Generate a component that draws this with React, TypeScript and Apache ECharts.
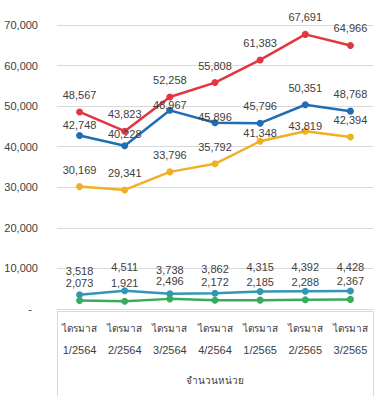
import React, { useEffect, useRef } from "react";
import * as echarts from "echarts";

const categories = ["1/2564", "2/2564", "3/2564", "4/2564", "1/2565", "2/2565", "3/2565"];
const categoryPrefix = "ไตรมาส";
const axisName = "จำนวนหน่วย";

const redValues = [48567, 43823, 52258, 55808, 61383, 67691, 64966];
const blueValues = [42748, 40228, 48967, 45896, 45796, 50351, 48768];
const orangeValues = [30169, 29341, 33796, 35792, 41348, 43819, 42394];
const tealValues = [3518, 4511, 3738, 3862, 4315, 4392, 4428];
const greenValues = [2073, 1921, 2496, 2172, 2185, 2288, 2367];

const yMin = 0;
const yMax = 70000;
const yInterval = 10000;

const FONT = "'Liberation Sans', Arial, sans-serif";

function fmt(v: number): string {
  return v.toLocaleString("en-US");
}

function makeSeries(name: string, values: number[], color: string, labelGap: number, shifts: number[] = [], lh?: number) {
  return {
    name,
    type: "line",
    data: values.map((v, i) => ({
      value: v,
      label: { offset: [0, shifts[i] || 0] },
    })),
    symbol: "circle",
    symbolSize: 7,
    lineStyle: { color, width: 2.5 },
    itemStyle: { color },
    label: {
      show: true,
      position: "top",
      distance: labelGap,
      color: "#404040",
      fontSize: 11,
      lineHeight: lh,
      fontFamily: FONT,
      formatter: (p: any) => fmt(p.value),
    },
    z: 2,
  };
}

export default function App() {
  const ref = useRef<HTMLDivElement>(null);
  useEffect(() => {
    if (!ref.current) return;
    const chart = echarts.init(ref.current, undefined, { renderer: "svg" });
    chart.setOption({
      animation: false,
      backgroundColor: "#ffffff",
      grid: { left: 57, right: 10, top: 25, bottom: 95, containLabel: false },
      xAxis: {
        type: "category",
        data: categories,
        boundaryGap: true,
        axisLine: { show: true, lineStyle: { color: "#d9d9d9", width: 1 } },
        axisTick: { show: false },
        axisLabel: {
          interval: 0,
          margin: 8,
          color: "#404040",
          fontSize: 11,
          lineHeight: 22,
          fontFamily: FONT,
          formatter: (v: string) => "{t|" + categoryPrefix + "}\n{n|" + v + "}",
          rich: {
            t: { fontSize: 10, lineHeight: 22, color: "#404040", fontFamily: FONT },
            n: { fontSize: 11, lineHeight: 22, color: "#404040", fontFamily: FONT },
          },
        },
        name: axisName,
        nameLocation: "middle",
        nameGap: 66,
        nameTextStyle: { color: "#404040", fontSize: 10, fontFamily: FONT },
      },
      yAxis: {
        type: "value",
        min: yMin,
        max: yMax,
        interval: yInterval,
        axisLine: { show: false },
        axisTick: { show: false },
        splitLine: { lineStyle: { color: "#d9d9d9", width: 1 } },
        axisLabel: {
          margin: 19,
          color: "#404040",
          fontSize: 11,
          fontFamily: FONT,
          formatter: (v: number) => (v === 0 ? "-  " : fmt(v)),
        },
      },
      graphic: [
        {
          type: "polyline",
          shape: { points: [[57.5, 396], [57.5, 311.5], [373.5, 311.5], [373.5, 396]] },
          style: { stroke: "#d9d9d9", fill: "none", lineWidth: 1 },
          silent: true,
        },
      ],
      series: [
        makeSeries("red", redValues, "#e2353f", 8),
        makeSeries("blue", blueValues, "#1f6db4", 8, [6, 5, 12, 11, 0, 0, 0]),
        makeSeries("orange", orangeValues, "#f0b024", 8, [0, 0, 0, 0, 9, 12, 0]),
        makeSeries("teal", tealValues, "#3396b4", 15, [], 11),
        makeSeries("green", greenValues, "#3aab5c", 9, [], 11),
      ],
    });
    return () => chart.dispose();
  }, []);
  return <div ref={ref} style={{ position: "fixed", left: 0, top: 0, width: 383, height: 404 }} />;
}
